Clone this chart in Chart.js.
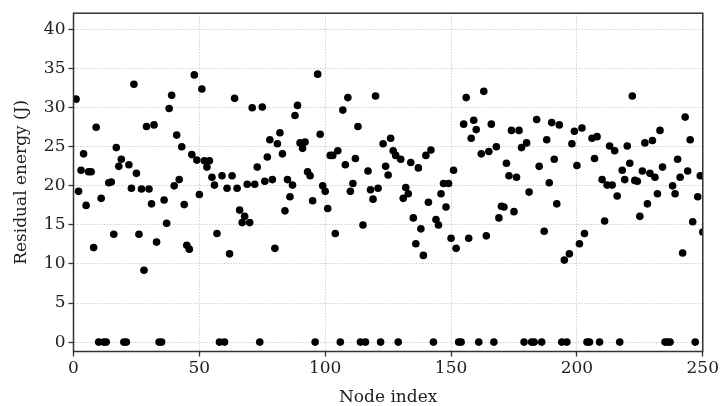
<!DOCTYPE html>
<html>
<head>
<meta charset="utf-8">
<script src="https://cdn.jsdelivr.net/npm/chart.js@4.4.1/dist/chart.umd.min.js"></script>
<style>
  html, body { margin: 0; padding: 0; background: #fff; }
  #wrap { width: 721px; height: 406px; }
</style>
</head>
<body>
<div id="wrap"><canvas id="scatter"></canvas></div>
<script>
// residual energy per node, node index = position + 1
var energy = [
  31.1, 19.3, 22.0, 24.1, 17.5, 21.8, 21.8, 12.1, 27.5, 0,
  18.4, 0, 0, 20.4, 20.5, 13.8, 24.9, 22.5, 23.4, 0,
  0, 22.7, 19.7, 33.0, 21.6, 13.8, 19.6, 9.2, 27.6, 19.6,
  17.7, 27.8, 12.8, 0, 0, 18.2, 15.2, 29.9, 31.6, 20.0,
  26.5, 20.8, 25.0, 17.6, 12.4, 11.9, 24.0, 34.2, 23.3, 18.9,
  32.4, 23.2, 22.4, 23.2, 21.1, 20.1, 13.9, 0, 21.3, 0,
  19.7, 11.3, 21.3, 31.2, 19.7, 16.9, 15.3, 16.1, 20.2, 15.3,
  30.0, 20.2, 22.4, 0, 30.1, 20.6, 23.7, 25.9, 20.8, 12.0,
  25.4, 26.8, 24.1, 16.8, 20.8, 18.6, 20.1, 29.0, 30.3, 25.5,
  24.8, 25.6, 21.8, 21.3, 18.1, 0, 34.3, 26.6, 20.0, 19.3,
  17.1, 23.9, 23.9, 13.9, 24.5, 0, 29.7, 22.7, 31.3, 19.3,
  20.3, 23.5, 27.6, 0, 15.0, 0, 21.9, 19.5, 18.3, 31.5,
  19.7, 0, 25.4, 22.5, 21.4, 26.1, 24.5, 23.9, 0, 23.4,
  18.4, 19.8, 19.0, 23.0, 15.9, 12.6, 22.3, 14.5, 11.1, 23.9,
  17.9, 24.6, 0, 15.7, 15.0, 19.0, 20.3, 17.3, 20.3, 13.3,
  22.0, 12.0, 0, 0, 27.9, 31.3, 13.3, 26.1, 28.4, 27.2,
  0, 24.1, 32.1, 13.6, 24.4, 27.9, 0, 25.0, 15.9, 17.4,
  17.3, 22.9, 21.3, 27.1, 16.7, 21.1, 27.1, 24.9, 0, 25.5,
  19.2, 0, 0, 28.5, 22.5, 0, 14.2, 25.9, 20.4, 28.1,
  23.4, 17.7, 27.8, 0, 10.5, 0, 11.3, 25.4, 27.0, 22.6,
  12.6, 27.4, 13.9, 0, 0, 26.1, 23.5, 26.3, 0, 20.8,
  15.5, 20.1, 25.1, 20.1, 24.5, 18.7, 0, 22.0, 20.8, 25.1,
  22.9, 31.5, 20.7, 20.6, 16.1, 21.9, 25.5, 17.7, 21.6, 25.8,
  21.1, 19.0, 27.1, 22.4, 0, 0, 0, 20.0, 19.0, 23.4,
  21.1, 11.4, 28.8, 21.9, 25.9, 15.4, 0, 18.6, 21.3, 14.1
];
var xTicks = [0, 50, 100, 150, 200, 250];
var yTicks = [0, 5, 10, 15, 20, 25, 30, 35, 40];
var xTitle = 'Node index';
var yTitle = 'Residual energy (J)';

var points = energy.map(function (v, i) { return { x: i + 1, y: v }; });

var FONT = 'DejaVu Serif';
var TXT = '#222';

// box round the plot area, like the matplotlib spines
var frame = {
  id: 'frame',
  afterDatasetsDraw: function (chart) {
    var a = chart.chartArea, c = chart.ctx;
    c.save();
    c.strokeStyle = '#333';
    c.lineWidth = 1.5;
    c.strokeRect(a.left, a.top, a.right - a.left, a.bottom - a.top);
    c.restore();
  }
};

new Chart(document.getElementById('scatter'), {
  type: 'scatter',
  data: {
    datasets: [{
      data: points,
      backgroundColor: '#000',
      borderWidth: 0,
      pointRadius: 3.8,
      pointHoverRadius: 3.8,
      clip: 0
    }]
  },
  options: {
    responsive: true,
    maintainAspectRatio: false,
    animation: false,
    layout: { padding: { left: 0, top: 8, right: 17, bottom: 0 } },
    plugins: { legend: { display: false }, tooltip: { enabled: false } },
    scales: {
      x: {
        type: 'linear',
        min: 0,
        max: 250,
        afterBuildTicks: function (s) { s.ticks = xTicks.map(function (v) { return { value: v }; }); },
        afterFit: function (s) { s.height = 54.5; },
        ticks: { color: TXT, font: { family: FONT, size: 17 }, padding: 2, maxRotation: 0 },
        grid: { color: '#c4c4c4', lineWidth: 0.8, tickLength: 5, tickColor: '#333', tickWidth: 1.3 },
        border: { display: false, dash: [1.5, 1.5] },
        title: { display: true, text: xTitle, color: TXT, font: { family: FONT, size: 17 }, padding: { top: 0, bottom: -2 } }
      },
      y: {
        type: 'linear',
        min: -1.2,
        max: 42.1,
        afterBuildTicks: function (s) { s.ticks = yTicks.map(function (v) { return { value: v }; }); },
        afterFit: function (s) { s.width = 73.5; },
        ticks: { color: TXT, font: { family: FONT, size: 17 }, padding: 3 },
        grid: { color: '#c4c4c4', lineWidth: 0.8, tickLength: 5, tickColor: '#333', tickWidth: 1.3 },
        border: { display: false, dash: [1.5, 1.5] },
        title: { display: true, text: yTitle, color: TXT, font: { family: FONT, size: 17 }, padding: { top: 11, bottom: 0 } }
      }
    }
  },
  plugins: [frame]
});
</script>
</body>
</html>
